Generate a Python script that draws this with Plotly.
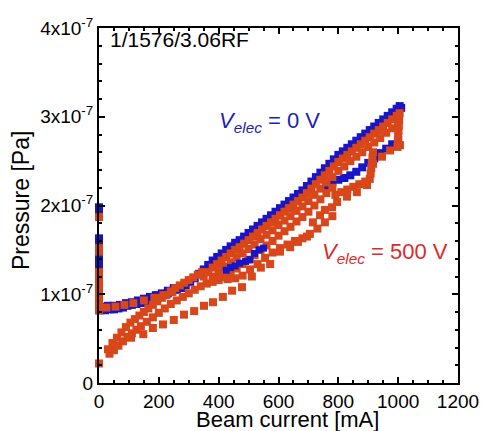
import plotly.graph_objects as go

# ---------------- data (pressure in units of 1e-7 Pa, current in mA) ----------------
# V_elec = 0 V  (blue)
blue_spike_current = [0] * 19
blue_spike_pressure = [1.98, 1.95, 1.63, 1.60, 1.57, 1.42, 1.38, 1.34, 1.30, 1.26,
                       1.20, 1.16, 1.10, 1.04, 0.98, 0.93, 0.88, 0.84, 0.82]

blue_main_current = [5, 20, 35, 50, 65, 80, 95, 110, 125, 140, 155, 170, 185, 200, 215, 230,
                     245, 260, 275, 290, 305, 320, 335, 350, 365, 380, 395, 410, 425, 440,
                     455, 470, 485, 500, 515, 530, 545, 560, 575, 590, 605, 620, 635, 650,
                     665, 680, 695, 710, 725, 740, 755, 770, 785, 800, 815, 830, 845, 860,
                     875, 890, 905, 920, 935, 950, 965, 980, 995, 1005, 1010]
blue_main_pressure = [0.82, 0.82, 0.83, 0.83, 0.84, 0.85, 0.87, 0.88, 0.89, 0.90, 0.92, 0.93,
                      0.95, 0.97, 0.99, 1.01, 1.03, 1.05, 1.07, 1.10, 1.14, 1.18, 1.23, 1.28,
                      1.33, 1.38, 1.42, 1.46, 1.50, 1.54, 1.58, 1.61, 1.65, 1.69, 1.73, 1.77,
                      1.81, 1.85, 1.89, 1.93, 1.97, 2.01, 2.05, 2.09, 2.13, 2.17, 2.22, 2.27,
                      2.32, 2.37, 2.42, 2.47, 2.52, 2.57, 2.61, 2.65, 2.69, 2.73, 2.77, 2.81,
                      2.85, 2.89, 2.93, 2.97, 3.01, 3.05, 3.09, 3.12, 3.10]

blue_flat2_current = [10, 30, 50, 70, 90, 110, 130, 150, 170, 190, 210, 230, 250]
blue_flat2_pressure = [0.86, 0.87, 0.87, 0.88, 0.90, 0.91, 0.93, 0.95, 0.97, 0.99, 1.01, 1.04, 1.07]

blue_loop1_current = [425, 440, 455, 470, 490, 505, 520, 535, 550]
blue_loop1_pressure = [1.27, 1.30, 1.32, 1.35, 1.37, 1.39, 1.46, 1.50, 1.52]

blue_loop2_current = [760, 780, 800, 820, 840, 860, 880, 900, 920, 940, 960, 980, 1000]
blue_loop2_pressure = [2.22, 2.26, 2.29, 2.31, 2.34, 2.38, 2.43, 2.48, 2.53, 2.59, 2.64, 2.69, 2.74]

# V_elec = 500 V  (red)
red_spike_current = [0] * 13
red_spike_pressure = [1.87, 1.52, 1.48, 1.25, 1.20, 1.12, 1.06, 1.00, 0.95, 0.90, 0.86, 0.82, 0.22]

red_flat_current = [25, 55, 85, 115, 150, 185, 215, 245]
red_flat_pressure = [0.85, 0.86, 0.88, 0.90, 0.93, 0.96, 0.99, 1.03]

red_ramp_top_current = [30, 45, 60, 75, 90, 105, 120, 135, 150, 165, 180, 195, 210, 225, 240,
                        255, 270, 285, 300, 315, 330, 345]
red_ramp_top_pressure = [0.38, 0.45, 0.51, 0.57, 0.63, 0.68, 0.72, 0.76, 0.80, 0.84, 0.88, 0.92,
                         0.96, 0.99, 1.03, 1.07, 1.10, 1.13, 1.16, 1.19, 1.22, 1.25]

red_ramp_low_current = [35, 50, 65, 80, 95, 110, 125, 140, 160, 180, 200, 220, 240, 260, 280,
                        300, 320, 340, 360, 380, 400]
red_ramp_low_pressure = [0.33, 0.37, 0.42, 0.47, 0.52, 0.56, 0.60, 0.64, 0.69, 0.74, 0.79, 0.84,
                         0.89, 0.93, 0.97, 1.01, 1.05, 1.09, 1.12, 1.14, 1.16]

red_top_current = [350, 365, 380, 395, 410, 425, 440, 455, 470, 485, 500, 515, 530, 545, 560,
                   575, 590, 605, 620, 635, 650, 665, 680, 695, 710, 725, 740, 755, 770, 785,
                   800, 815, 830, 845, 860, 875, 890, 905, 920, 935, 950, 965, 980, 995, 1005]
red_top_pressure = [1.20, 1.25, 1.30, 1.34, 1.38, 1.42, 1.46, 1.50, 1.53, 1.57, 1.61, 1.65,
                    1.69, 1.73, 1.77, 1.81, 1.85, 1.89, 1.93, 1.97, 2.01, 2.05, 2.09, 2.14,
                    2.19, 2.24, 2.29, 2.34, 2.39, 2.44, 2.49, 2.53, 2.57, 2.61, 2.65, 2.69,
                    2.73, 2.77, 2.81, 2.85, 2.89, 2.93, 2.97, 3.01, 3.04]

red_mid_current = [380, 400, 420, 440, 460, 480, 500, 520, 540, 560, 580, 600, 620, 640, 660,
                   680, 700, 720, 740, 760, 780, 800, 820, 840, 860, 880, 900, 920, 940, 960,
                   980, 1000]
red_mid_pressure = [1.20, 1.25, 1.31, 1.36, 1.41, 1.46, 1.51, 1.56, 1.62, 1.67, 1.72, 1.78,
                    1.83, 1.88, 1.94, 1.99, 2.05, 2.12, 2.19, 2.26, 2.32, 2.39, 2.44, 2.50,
                    2.55, 2.60, 2.66, 2.71, 2.76, 2.82, 2.87, 2.92]

red_third_current = [420, 440, 460, 480, 500, 520, 540, 560, 580, 600, 620, 640, 660, 680,
                     700, 720, 740, 760, 780]
red_third_pressure = [1.19, 1.24, 1.29, 1.34, 1.39, 1.44, 1.50, 1.55, 1.60, 1.66, 1.71, 1.76,
                      1.82, 1.87, 1.93, 2.00, 2.07, 2.14, 2.20]

red_bottom_current = [430, 455, 480, 505, 530, 555, 580, 605, 630, 655, 680, 705, 730, 755, 780]
red_bottom_pressure = [1.17, 1.18, 1.21, 1.28, 1.34, 1.41, 1.47, 1.52, 1.56, 1.60, 1.63, 1.68,
                       1.74, 1.81, 1.88]

red_loopA_current = [790, 810, 830, 850, 870, 890, 905, 908, 910, 912, 914, 916]
red_loopA_pressure = [2.12, 2.15, 2.18, 2.21, 2.24, 2.27, 2.30, 2.36, 2.42, 2.48, 2.54, 2.60]

red_loopB_current = [998, 999, 1000, 1001, 1002, 1003]
red_loopB_pressure = [2.66, 2.72, 2.78, 2.84, 2.90, 2.96]

red_sparse_current = [107, 148, 180, 214, 250, 284, 318, 351, 381, 414, 445, 478, 511, 541, 572,
                      605, 639, 665, 695, 715, 739, 755, 779, 796, 829, 862, 896, 916, 946, 973,
                      1006]
red_sparse_pressure = [0.51, 0.55, 0.62, 0.66, 0.71, 0.77, 0.81, 0.87, 0.91, 0.97, 1.04, 1.08,
                       1.20, 1.30, 1.34, 1.48, 1.53, 1.59, 1.65, 1.81, 1.89, 1.95, 1.98, 2.04,
                       2.10, 2.15, 2.23, 2.47, 2.55, 2.62, 2.68]

x_tick_values = [0, 200, 400, 600, 800, 1000, 1200]
x_tick_labels = ["0", "200", "400", "600", "800", "1000", "1200"]
y_tick_values = [0, 1e-7, 2e-7, 3e-7, 4e-7]
y_tick_labels = ["0", "1x10<sup>-7</sup>", "2x10<sup>-7</sup>", "3x10<sup>-7</sup>", "4x10<sup>-7</sup>"]

UNIT = 1e-7

blue_x = (blue_spike_current + blue_main_current + blue_flat2_current + blue_loop2_current)
blue_y = [v * UNIT for v in (blue_spike_pressure + blue_main_pressure + blue_flat2_pressure
                             + blue_loop2_pressure)]
blue_top_x = blue_loop1_current
blue_top_y = [v * UNIT for v in blue_loop1_pressure]

red_x = (red_spike_current + red_flat_current + red_ramp_top_current + red_ramp_low_current
         + red_top_current + red_mid_current + red_third_current + red_bottom_current
         + red_loopA_current + red_loopB_current + red_sparse_current)
red_y = [v * UNIT for v in (red_spike_pressure + red_flat_pressure + red_ramp_top_pressure
                            + red_ramp_low_pressure + red_top_pressure + red_mid_pressure
                            + red_third_pressure + red_bottom_pressure + red_loopA_pressure
                            + red_loopB_pressure + red_sparse_pressure)]

FONT = "Liberation Sans, Arial, sans-serif"
BLUE = "#1616c8"
RED = "#d8461a"

fig = go.Figure()
fig.add_trace(go.Scatter(x=blue_x, y=blue_y, mode="markers", cliponaxis=False,
                         marker=dict(symbol="square", size=8, color=BLUE, line=dict(width=0)),
                         showlegend=False))
fig.add_trace(go.Scatter(x=red_x, y=red_y, mode="markers", cliponaxis=False,
                         marker=dict(symbol="square", size=8, color=RED, line=dict(width=0)),
                         showlegend=False))
fig.add_trace(go.Scatter(x=blue_top_x, y=blue_top_y, mode="markers", cliponaxis=False,
                         marker=dict(symbol="square", size=7, color=BLUE, line=dict(width=0)),
                         showlegend=False))

axis_common = dict(showgrid=False, zeroline=False, showline=True, linecolor="black",
                   linewidth=2, mirror="allticks", ticks="inside", ticklen=6, tickwidth=1.5,
                   tickcolor="black", automargin=False,
                   tickfont=dict(family=FONT, size=19, color="black"))

fig.update_xaxes(range=[0, 1200], tickmode="array", tickvals=x_tick_values,
                 ticktext=x_tick_labels,
                 minor=dict(dtick=50, ticks="inside", ticklen=3, tickcolor="black"),
                 **axis_common)
fig.update_yaxes(range=[0, 4e-7], tickmode="array", tickvals=y_tick_values,
                 ticktext=y_tick_labels,
                 minor=dict(dtick=0.2e-7, ticks="inside", ticklen=3, tickcolor="black"),
                 **axis_common)

L, R, T, B = 99, 23, 28, 48
W, H = 481, 431
pw, ph = W - L - R, H - T - B

def px(xp):
    return (xp - L) / pw

def py(yp):
    return (H - B - yp) / ph

annotations = [
    dict(text="1/1576/3.06RF", x=px(108), y=py(40), xanchor="left", yanchor="middle",
         font=dict(family=FONT, size=21, color="black")),
    dict(text="<i>V</i><sub><i>elec</i></sub> = 0 V", x=px(217), y=py(106), xanchor="left",
         yanchor="top", font=dict(family=FONT, size=22, color="#1e1eb4")),
    dict(text="<i>V</i><sub><i>elec</i></sub> = 500 V", x=px(320), y=py(237), xanchor="left",
         yanchor="top", font=dict(family=FONT, size=22, color="#dc2a2a")),
    dict(text="Beam current [mA]", x=px(287), y=py(419), xanchor="center", yanchor="middle",
         font=dict(family=FONT, size=22, color="black")),
    dict(text="Pressure [Pa]", x=px(21), y=py(201), xanchor="center", yanchor="middle",
         textangle=-90, font=dict(family=FONT, size=23, color="black")),
]
for a in annotations:
    a.update(xref="paper", yref="paper", showarrow=False)

fig.update_layout(width=W, height=H, margin=dict(l=L, r=R, t=T, b=B, pad=0),
                  paper_bgcolor="white", plot_bgcolor="white",
                  font=dict(family=FONT, color="black"),
                  annotations=annotations)

fig.write_html("out.html", config={"displayModeBar": False},
               post_script="document.body.style.margin='0';")
